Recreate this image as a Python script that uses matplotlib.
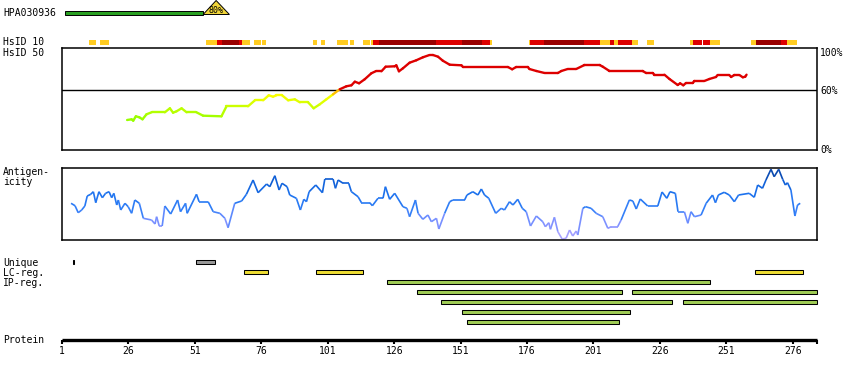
import numpy as np
import matplotlib
matplotlib.use('Agg')
import matplotlib.pyplot as plt
from matplotlib.collections import LineCollection
from matplotlib.colors import LinearSegmentedColormap, to_rgb
from matplotlib.patches import Rectangle, Polygon

# ---- data ----
prot_len = 285
antigen_id = 'HPA030936'
antigen_start, antigen_end = 2.2, 54.1
antigen_identity = '80%'

# HsID 10 track: segments (start, end, level 0=low, 1=mid, 2=high)
hsid10_start = [11.2, 15.3, 55.1, 59.3, 61.2, 67.5, 68.7, 73.2, 76.2, 95.4, 98.5, 104.4,
                109.3, 114.2, 117.2, 118.1, 120.2, 141.6, 151.4, 158.9, 161.9, 176.6,
                177.3, 182.2, 197.6, 203.6, 207.4, 208.9, 210.2, 215.6, 221.3, 237.5,
                238.4, 242.4, 245.0, 260.4, 262.3, 271.7, 274.0]
hsid10_end = [13.8, 18.7, 59.3, 61.2, 67.5, 68.7, 71.7, 75.8, 77.7, 96.9, 99.9, 108.5,
              110.8, 116.8, 118.1, 120.2, 141.6, 151.4, 158.9, 161.9, 162.7, 177.3,
              182.2, 197.6, 203.6, 207.4, 208.9, 210.2, 215.6, 217.9, 223.9, 238.4,
              242.0, 245.0, 248.7, 262.3, 271.7, 274.0, 277.7]
hsid10_level = [0, 0, 0, 1, 2, 1, 0, 0, 0, 0, 0, 0,
                0, 0, 0, 1, 2, 1, 2, 1, 0, 0,
                1, 2, 1, 0, 1, 0, 1, 0, 0, 0,
                1, 1, 0, 0, 2, 1, 0]

# HsID 50 identity curve (%)
hsid50_pos = [25.5, 27.2, 27.8, 28.8, 30.1, 31.3, 32.8, 34.7, 39.7, 41.6,
              42.8, 44.1, 46.0, 47.9, 51.6, 54.1, 61.0, 62.9, 71.0, 73.6,
              76.7, 78.8, 80.4, 81.7, 83.8, 86.1, 88.6, 90.5, 93.6, 95.7,
              98.0, 100.5, 103.0, 105.5, 108.0, 109.9, 111.2, 112.8, 114.9, 117.4,
              119.0, 121.2, 122.8, 126.2, 126.8, 127.8, 129.3, 131.8, 134.3, 136.8,
              139.3, 140.6, 142.5, 144.3, 146.9, 151.3, 151.9, 168.8, 170.4, 171.9,
              176.3, 176.9, 179.5, 182.6, 187.6, 188.9, 191.3, 194.5, 197.6, 203.3,
              204.5, 207.0, 219.5, 220.8, 223.3, 223.9, 227.7, 229.6, 232.7, 233.6,
              234.8, 235.8, 238.3, 239.0, 242.7, 244.6, 247.1, 247.7, 252.1, 252.8,
              254.0, 255.9, 257.2, 258.1, 258.6]
hsid50_val = [30.3, 31, 29.6, 34, 33, 31, 36, 38, 38, 42,
              37.6, 39, 42, 38, 38, 34.6, 34, 44, 44, 50,
              50, 55, 53.6, 55, 55, 50, 51, 48, 48, 42,
              46, 51, 56, 61, 64, 65, 68.6, 67, 71, 77,
              79, 79, 83.6, 84, 85, 79, 82, 87.6, 90, 93,
              95.3, 95.3, 93.6, 89.6, 85.6, 85, 83.3, 83.3, 81, 83.3,
              83.3, 81.3, 79.3, 77.3, 77.3, 79.3, 81.3, 81.3, 85.3, 85.3,
              83.6, 79.3, 79.3, 77.3, 77.3, 75.6, 75.6, 71.3, 65.3, 67,
              65, 67.3, 67.3, 69.3, 69.3, 71.3, 73.3, 75.3, 75.3, 73.3,
              75.3, 75.3, 73, 73.6, 75.6]

# antigenicity profile (arbitrary units, 0-72)
ag_pos = [4.4, 5.9, 7.1, 8.4, 9.6, 10.5, 11.8, 12.8, 13.7, 14.9,
          16.2, 17.4, 18.7, 19.7, 20.5, 21.6, 22.2, 23.1, 24.7, 25.9,
          27.2, 28.4, 30.1, 31.6, 34.7, 36.0, 36.6, 37.6, 38.7, 39.7,
          41.9, 44.5, 45.6, 47.5, 48.1, 51.6, 52.6, 56.0, 57.9, 60.4,
          62.3, 63.5, 66.0, 68.6, 70.4, 72.9, 74.8, 78.0, 79.2, 81.1,
          82.7, 83.8, 85.7, 86.7, 89.2, 90.7, 92.0, 93.0, 94.0, 96.5,
          99.0, 99.9, 103.0, 103.9, 104.9, 106.8, 108.9, 109.9, 112.4, 113.7,
          116.8, 117.8, 119.9, 121.8, 122.7, 124.3, 126.2, 129.3, 130.8, 131.8,
          134.0, 135.0, 136.8, 138.7, 140.0, 141.9, 142.8, 145.0, 146.9, 148.1,
          152.5, 153.4, 155.6, 157.5, 158.8, 160.0, 161.6, 164.2, 166.3, 167.5,
          169.4, 170.7, 172.5, 174.2, 175.7, 177.3, 179.5, 181.9, 182.9, 184.2,
          184.8, 186.3, 187.6, 189.2, 190.7, 192.0, 193.2, 194.5, 195.1, 197.0,
          198.0, 200.1, 202.0, 204.5, 206.4, 207.7, 210.1, 211.4, 214.5, 215.8,
          217.1, 218.6, 221.4, 225.2, 226.8, 228.6, 229.8, 231.8, 232.8, 235.2,
          236.5, 237.7, 239.0, 241.5, 243.4, 245.8, 246.9, 248.0, 250.2, 252.1,
          254.0, 255.6, 259.6, 261.5, 262.8, 264.6, 265.9, 267.8, 269.0, 270.7,
          272.2, 273.2, 274.0, 275.3, 276.8, 277.8, 278.8]
ag_val = [37, 34.6, 27.6, 30.3, 34.3, 44.3, 46, 48.6, 37.6, 48.6,
          42.6, 47, 48.6, 42.6, 47, 35.3, 40.3, 30.3, 37, 33.6,
          27, 40.3, 37, 22, 20.3, 16.3, 23.6, 14.3, 14.3, 34.3,
          26.3, 40.3, 28.6, 37, 27, 46, 38.6, 38.6, 28.6, 27,
          22, 12.6, 37, 39.3, 46, 60.3, 47.6, 56.3, 53.6, 64.6,
          50.3, 57, 53.6, 45.3, 42, 30.3, 41, 38.6, 48.6, 55.3,
          47.6, 61.3, 61.3, 52, 60.3, 57, 57, 48.6, 43.6, 37.6,
          37.6, 34.6, 42, 42, 53.6, 41, 47, 33.6, 32, 23.6,
          40.3, 27, 21, 25.3, 18.6, 22, 11.3, 27, 38.6, 40.3,
          40.3, 45.3, 48.6, 45.3, 51.3, 45.3, 42, 27, 32, 30.3,
          38.6, 35.3, 41, 32, 28.6, 14.3, 24.3, 18.6, 13.6, 17.6,
          11, 23, 8.6, 1.3, 2, 10.3, 4.3, 9.3, 5.3, 32,
          33.6, 32, 27, 23.6, 12, 13.6, 13.6, 20.3, 40.3, 39.3,
          31.3, 41.3, 34.3, 34.3, 48.3, 42, 48.6, 47, 28.6, 28.6,
          17, 28.6, 23.6, 25.3, 37, 45.3, 37.6, 45.3, 48, 45.3,
          38.6, 45.3, 47, 43, 55.3, 52, 60.3, 71, 63.6, 71,
          61, 55.3, 57.6, 50.3, 24.3, 35.3, 37]

# region tracks
unique_start = [5.1, 51.5]
unique_end = [5.6, 58.4]
lc_start = [69.5, 96.6, 261.6]
lc_end = [78.6, 114.4, 279.8]
ip_start = [123.3, 134.6, 215.4, 143.6, 234.6, 151.5, 153.4]
ip_end = [244.7, 211.6, 285.0, 230.6, 285.0, 214.8, 210.7]
ip_row = [0, 1, 1, 2, 2, 3, 4]

tick_pos = [1, 26, 51, 76, 101, 126, 151, 176, 201, 226, 251, 276]

# ---- layout (figure pixels) ----
W, H = 850, 380
X0, X1 = 62, 816.7
S = (X1 - X0) / (prot_len - 1)
FONT = 'DejaVu Sans Mono'
FS = 7


def res_at(px):
    return 1 + (px - X0) / S


def ftext(px, py, s, **kw):
    fig.text(px / W, 1 - py / H, s, family=FONT, fontsize=FS, va='center', **kw)


fig = plt.figure(figsize=(W / 100, H / 100), dpi=100)
fig.patch.set_facecolor('white')

ax = fig.add_axes([0, 0, 1, 1], zorder=0)
ax.set_xlim(res_at(0), res_at(W))
ax.set_ylim(H, 0)
ax.axis('off')

# antigen bar with identity triangle
ax.add_patch(Rectangle((antigen_start, 10.5), antigen_end - antigen_start, 4,
                       facecolor='#2aa022', edgecolor='black', lw=0.7))
tri_mid = antigen_end + 4.9
ax.add_patch(Polygon([(antigen_end, 14.5), (tri_mid, 0.5), (antigen_end + 9.9, 14.5)],
                     closed=True, facecolor='#f0d53a', edgecolor='black', lw=0.7))
ax.text(tri_mid, 10.2, antigen_identity, family=FONT, fontsize=6, ha='center', va='center')

# HsID 10 track
level_colors = ['#ffcc22', '#dd0000', '#990000']
for s, e, lv in zip(hsid10_start, hsid10_end, hsid10_level):
    ax.add_patch(Rectangle((s, 40), e - s, 5, facecolor=level_colors[lv], lw=0))

# region tracks
def bar(s, e, yc, color):
    ax.add_patch(Rectangle((s, yc - 2), e - s, 4, facecolor=color,
                           edgecolor='black', lw=0.75))

for s, e in zip(unique_start, unique_end):
    bar(s, e, 262.3, '#999999' if e - s > 1 else 'black')
for s, e in zip(lc_start, lc_end):
    bar(s, e, 272.3, '#eedd33')
for s, e, r in zip(ip_start, ip_end, ip_row):
    bar(s, e, 282.3 + 10 * r, '#a0cc55')

# protein axis
ax.plot([1, prot_len], [339.5, 339.5], color='black', lw=2.4, solid_capstyle='butt')
ax.vlines(tick_pos + [prot_len], 339.5, 344, color='black', lw=1.5)
for t in tick_pos:
    ax.text(t, 351, str(t), family=FONT, fontsize=FS, ha='center', va='center')

# HsID 50 panel
left, width = X0 / W, (X1 - X0) / W
ax1 = fig.add_axes([left, 1 - 150.3 / H, width, 102 / H], zorder=1)
ax1.set_xlim(1, prot_len)
ax1.set_ylim(0, 102)
ax1.axhline(60, color='black', lw=1.0)


def hsid_color(v):
    if v >= 60:
        return '#dd0000'
    t = np.clip((v - 32) / 24, 0, 1)
    g = np.array(to_rgb('#99ff00'))
    y = np.array(to_rgb('#ffff00'))
    if v > 56:
        return tuple(y + (np.array(to_rgb('#ff9900')) - y) * (v - 56) / 4)
    return tuple(g + (y - g) * t)


pts = np.column_stack([hsid50_pos, hsid50_val])
segs = np.stack([pts[:-1], pts[1:]], axis=1)
cols = [hsid_color((a + b) / 2) for a, b in zip(hsid50_val[:-1], hsid50_val[1:])]
ax1.add_collection(LineCollection(segs, colors=cols, lw=1.7, capstyle='round'))

# antigenicity panel
ax2 = fig.add_axes([left, 1 - 240.3 / H, width, 72 / H], zorder=1)
ax2.set_xlim(1, prot_len)
ax2.set_ylim(0, 72)
ag_cmap = LinearSegmentedColormap.from_list(
    'ag', [(0, '#b8aaff'), (0.18, '#8e96ff'), (0.32, '#6a8cff'), (0.42, '#3480f8'),
           (0.65, '#1c72ee'), (0.85, '#0c5ad0'), (1.0, '#0a3c96')])
pts = np.column_stack([ag_pos, ag_val])
segs = np.stack([pts[:-1], pts[1:]], axis=1)
mid = (np.array(ag_val[:-1]) + np.array(ag_val[1:])) / 2
ax2.add_collection(LineCollection(segs, colors=ag_cmap(mid / 72), lw=1.2))

for a in (ax1, ax2):
    a.set_xticks([])
    a.set_yticks([])
    for sp in a.spines.values():
        sp.set_linewidth(1.1)

# labels
ftext(3, 12.7, antigen_id)
ftext(3, 42.3, 'HsID 10')
ftext(3, 53, 'HsID 50')
ftext(3, 172, 'Antigen-')
ftext(3, 182, 'icity')
ftext(3, 262.5, 'Unique')
ftext(3, 272.5, 'LC-reg.')
ftext(3, 282.5, 'IP-reg.')
ftext(3, 339.7, 'Protein')
ftext(820, 53, '100%')
ftext(820, 90.5, '60%')
ftext(820, 150, '0%')

fig.savefig('out.png', dpi=100, facecolor='white')
